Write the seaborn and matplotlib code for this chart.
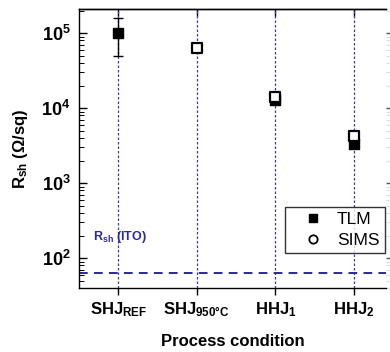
import numpy as np
import pandas as pd
import matplotlib
matplotlib.use("Agg")
import matplotlib.pyplot as plt
import seaborn as sns
from matplotlib.ticker import LogLocator, FuncFormatter, NullFormatter
from matplotlib.lines import Line2D

categories = ["SHJ_REF", "SHJ_950C", "HHJ_1", "HHJ_2"]
tick_labels = [r"SHJ$_{\mathbf{REF}}$", r"SHJ$_{\mathbf{950°C}}$", r"HHJ$_{\mathbf{1}}$", r"HHJ$_{\mathbf{2}}$"]
tlm_cats = ["SHJ_REF", "HHJ_1", "HHJ_2"]
tlm_vals = [1.0e5, 1.28e4, 3.3e3]
tlm_err_low = [5.0e4, 0, 0]
tlm_err_high = [5.8e4, 0, 0]
sims_cats = ["SHJ_950C", "HHJ_1", "HHJ_2"]
sims_vals = [6.4e4, 1.42e4, 4.2e3]
ito_rsh = 64

sns.set_theme(style="ticks")
plt.rcParams["font.family"] = ["Liberation Sans", "DejaVu Sans"]
plt.rcParams["mathtext.fontset"] = "custom"
plt.rcParams["mathtext.rm"] = "Liberation Sans"
plt.rcParams["mathtext.bf"] = "Liberation Sans:bold"
plt.rcParams["mathtext.it"] = "Liberation Sans:italic"
for k in ["text.color", "axes.labelcolor", "xtick.color", "ytick.color", "axes.edgecolor"]:
    plt.rcParams[k] = "black"

fig = plt.figure(figsize=(3.9, 3.52), dpi=100)
ax = fig.add_axes([79/390, 1-288/352, (386-79)/390, (288-9)/352])

df = pd.DataFrame({
    "cond": pd.Categorical(tlm_cats + sims_cats, categories=categories),
    "val": tlm_vals + sims_vals,
    "method": ["TLM"] * len(tlm_cats) + ["SIMS"] * len(sims_cats),
})
pos = {c: i for i, c in enumerate(categories)}

# vertical dotted guide lines
for i in range(len(categories)):
    ax.axvline(i, color="#3a3aa8", ls=(0, (2, 1.6)), lw=0.9, zorder=1)
ax.axhline(ito_rsh, color="#2a2a9a", ls=(0, (4.5, 3.2)), lw=1.4, zorder=1)

# error bar for TLM
xs = [pos[c] for c in tlm_cats]
ax.errorbar(xs, tlm_vals, yerr=[tlm_err_low, tlm_err_high], fmt="none",
            ecolor="black", elinewidth=1.0, capsize=3.5, capthick=1.0, zorder=2)

tlm = df[df.method == "TLM"]
sims = df[df.method == "SIMS"]
sns.scatterplot(data=tlm, x=tlm["cond"].map(pos).astype(float), y="val", marker="s", s=55,
                color="black", edgecolor="black", linewidth=1.0, ax=ax, zorder=3, legend=False)
sns.scatterplot(data=sims, x=sims["cond"].map(pos).astype(float), y="val", marker="s", s=45,
                facecolor="white", edgecolor="black", linewidth=1.6, ax=ax, zorder=4, legend=False)

ax.set_yscale("log")
ax.set_ylim(40, 2.1e5)
ax.set_xlim(-0.5, 3.41)
ax.set_xticks(range(len(categories)))
ax.set_xticklabels(tick_labels, fontsize=12, fontweight="bold")
ax.yaxis.set_major_locator(LogLocator(base=10, numticks=10))
ax.yaxis.set_minor_locator(LogLocator(base=10, subs=np.arange(2, 10), numticks=20))
ax.yaxis.set_major_formatter(FuncFormatter(lambda v, p: r"$\mathbf{10^{%d}}$" % round(np.log10(v))))
ax.yaxis.set_minor_formatter(NullFormatter())
ax.tick_params(axis="y", which="major", direction="in", length=6, width=1.0, labelsize=13, pad=6, right=False)
ax.tick_params(axis="y", which="minor", direction="in", length=3.5, width=0.7, right=False)
ax.tick_params(axis="x", which="major", direction="out", length=5, width=1.0, pad=4)
ax.tick_params(axis="x", which="minor", bottom=False)

# top ticks pointing inward
top = ax.secondary_xaxis("top")
top.set_xticks(range(len(categories)))
top.tick_params(direction="in", length=5, width=1.0, labeltop=False)
# faint right ticks
rgt = ax.secondary_yaxis("right")
rgt.tick_params(which="major", direction="out", length=3, width=1.0, colors="#555555", labelright=False)
rgt.tick_params(which="minor", direction="out", length=2, width=0.5, colors="#cccccc", labelright=False)
rgt.spines["right"].set_visible(False)
ax.spines["right"].set_visible(False)
for s in ["left", "bottom", "top"]:
    ax.spines[s].set_linewidth(1.0)
    ax.spines[s].set_color("black")
top.spines["top"].set_linewidth(1.0)

ax.set_xlabel("Process condition", fontsize=12, fontweight="bold", labelpad=11)
ax.set_ylabel(r"R$_{\mathbf{sh}}$ (Ω/sq)", fontsize=12, fontweight="bold", labelpad=8)

ax.text(-0.32, 190, r"R$_{\mathregular{sh}}$ (ITO)", color="#2a2a9a", fontsize=9,
        fontweight="bold", va="center", ha="left")

handles = [Line2D([], [], ls="none", marker="s", color="black", markersize=6),
           Line2D([], [], ls="none", marker="o", mfc="white", mec="black", markersize=6, mew=1.3)]
leg = ax.legend(handles, ["TLM", "SIMS"], loc="upper left", bbox_to_anchor=(206/307, 1-(207-9)/279),
                frameon=True, fancybox=False, edgecolor="black", fontsize=12.5,
                handletextpad=0.1, borderpad=0.3, labelspacing=0.3, handlelength=2.6, borderaxespad=0)
leg.get_frame().set_linewidth(1.0)

fig.savefig("out.png", dpi=100)
